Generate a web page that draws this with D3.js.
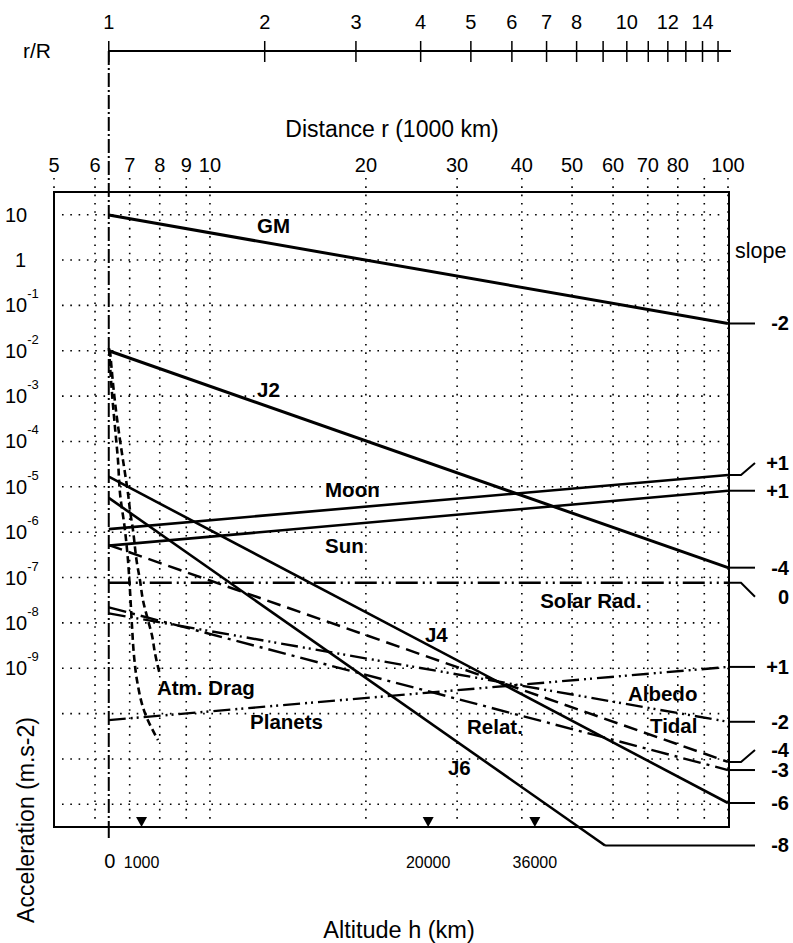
<!DOCTYPE html>
<html><head><meta charset="utf-8">
<script src="https://cdn.jsdelivr.net/npm/d3@7"></script>
<style>
body{margin:0;background:#fff}
text{font-family:"Liberation Sans",Arial,Helvetica,sans-serif;fill:#000}
</style>
</head><body>
<svg id="c" width="793" height="943"></svg>
<script>
// ---------- data ----------
const earthRadius = 6.378; // 1000 km
const distTicks = [5,6,7,8,9,10,20,30,40,50,60,70,80,90,100];
const distLabels = [5,6,7,8,9,10,20,30,40,50,60,70,80,100];
const ratioTicks = [1,2,3,4,5,6,7,8,9,10,11,12,13,14,15];
const ratioLabels = [1,2,3,4,5,6,7,8,10,12,14];
const accelGridExp = [1,0,-1,-2,-3,-4,-5,-6,-7,-8,-9,-10,-11,-12];
const accelLabelExp = [1,0,-1,-2,-3,-4,-5,-6,-7,-8,-9];
const altitudeLabels = [0,1000,20000,36000];
const altitudeMarks = [1000,20000,36000];

// series: [r (1000 km), acceleration (m/s^2)]
const gm      = [[6.378, 9.8],    [100, 3.99e-2]];
const j2      = [[6.378, 1.0e-2], [100, 1.65e-7]];
const moon    = [[6.378, 1.17e-6],[100, 1.82e-5]];
const sun     = [[6.378, 5.05e-7],[100, 8.2e-6]];
const solarRad= [[6.378, 7.7e-8], [100, 7.7e-8]];
const j4      = [[6.378, 1.67e-5],[100, 1.07e-12]];
const j6      = [[6.378, 5.7e-6], [57.9, 1.24e-13]];
const relat   = [[6.378, 2.2e-8], [100, 5.7e-12]];
const albedo  = [[6.378, 1.62e-8],[100, 6.6e-11]];
const tidal   = [[6.378, 5.2e-7], [100, 8.6e-12]];
const planets = [[6.378, 7.2e-11],[100, 1.07e-9]];
const dragA = [[6.383,1.15e-2],[6.47,1.17e-3],[6.556,2.08e-4],[6.644,3.9e-5],[6.704,7.3e-6],
               [6.854,1.12e-6],[6.946,2.44e-7],[7.008,5.3e-8],[7.07,9.0e-9],[7.133,1.96e-9],
               [7.229,5.5e-10],[7.49,1.03e-10],[7.938,2.6e-11]];
const dragB = [[6.412,1.04e-2],[6.585,4.9e-4],[6.704,1.08e-4],[6.854,2.02e-5],[6.946,7.3e-6],
               [7.008,3.08e-6],[7.102,1.12e-6],[7.229,2.09e-7],[7.326,8.8e-8],[7.424,3.2e-8],
               [7.591,1.16e-8],[7.727,5.4e-9],[7.831,2.17e-9],[7.938,1.07e-9],[8.009,7.1e-10]];

const seriesNames = ["GM","J2","Moon","Sun","Solar Rad.","J4","J6","Relat.","Albedo","Tidal","Planets","Atm. Drag"];
const slopeLabels = ["-2","-4","+1","+1","0","-6","-8","-3","-2","-4","+1"];

// ---------- layout ----------
const svg = d3.select("#c");
const x = d3.scaleLog().domain([5,100]).range([54,728]);
const y = d3.scaleLog().domain([Math.pow(10,-12.5), Math.pow(10,1.5)]).range([827,192]);
const L = 54, R = 728, T = 192, B = 827;

// grid
const grid = svg.append("g").attr("stroke","#000").attr("stroke-width",1.6)
  .attr("stroke-dasharray","1.6,6.7").attr("fill","none");
accelGridExp.forEach(e=>{
  grid.append("line").attr("x1",L+8).attr("x2",R-6)
    .attr("y1",y(Math.pow(10,e))).attr("y2",y(Math.pow(10,e)));
});
distTicks.forEach(d=>{
  grid.append("line").attr("x1",x(d)).attr("x2",x(d)).attr("y1",178).attr("y2",822);
});

// frame
svg.append("rect").attr("x",L).attr("y",T).attr("width",R-L+1).attr("height",B-T)
  .attr("fill","none").attr("stroke","#000").attr("stroke-width",2);

// distance tick labels
svg.append("g").selectAll("text").data(distLabels).join("text")
  .attr("x",d=>x(d)).attr("y",172).attr("text-anchor","middle")
  .attr("font-size",20).text(d=>d);
svg.append("text").attr("x",392).attr("y",137).attr("text-anchor","middle")
  .attr("font-size",23).text("Distance r (1000 km)");

// r/R axis
const ya = 51;
svg.append("line").attr("x1",x(earthRadius)).attr("x2",R+3).attr("y1",ya).attr("y2",ya)
  .attr("stroke","#000").attr("stroke-width",2);
svg.append("g").selectAll("line").data(ratioTicks).join("line")
  .attr("x1",d=>x(d*earthRadius)).attr("x2",d=>x(d*earthRadius))
  .attr("y1",ya-10).attr("y2",ya+11).attr("stroke","#000").attr("stroke-width",1.5);
svg.append("g").selectAll("text").data(ratioLabels).join("text")
  .attr("x",d=>x(d*earthRadius)).attr("y",29).attr("text-anchor","middle")
  .attr("font-size",20).text(d=>d);
svg.append("text").attr("x",37).attr("y",58).attr("text-anchor","middle")
  .attr("font-size",21).text("r/R");

// Earth-surface line
svg.append("line").attr("x1",x(earthRadius)).attr("x2",x(earthRadius))
  .attr("y1",ya).attr("y2",B).attr("stroke","#000").attr("stroke-width",2)
  .attr("stroke-dasharray","14,3,2,3");
svg.append("line").attr("x1",x(earthRadius)).attr("x2",x(earthRadius))
  .attr("y1",B).attr("y2",B+11).attr("stroke","#000").attr("stroke-width",2);

// acceleration labels
const yl = svg.append("g");
accelLabelExp.forEach(e=>{
  const yy = y(Math.pow(10,e)) + 7;
  if (e===0) {
    yl.append("text").attr("x",15).attr("y",yy).attr("font-size",20).text("1");
  } else {
    const t = yl.append("text").attr("x",5).attr("y",yy).attr("font-size",20).text("10");
    if (e!==1) t.append("tspan").attr("font-size",13).attr("dy",-14).text(String(e));
  }
});
svg.append("text").attr("transform","translate(34,820) rotate(-90)")
  .attr("text-anchor","middle").attr("font-size",23).text("Acceleration (m.s-2)");

// altitude labels
svg.append("g").selectAll("text").data(altitudeLabels).join("text")
  .attr("x",d=>x(earthRadius + d/1000) + (d===0?1:0)).attr("y",868)
  .attr("text-anchor","middle").attr("font-size",d=>d===0?20:16).text(d=>d);
svg.append("g").selectAll("path").data(altitudeMarks).join("path")
  .attr("d",d=>{const xx=x(earthRadius+d/1000);return `M${xx-5.5},817L${xx+5.5},817L${xx},827Z`;})
  .attr("fill","#000");
svg.append("text").attr("x",399).attr("y",938).attr("text-anchor","middle")
  .attr("font-size",23.5).text("Altitude h (km)");

// series lines
const line = d3.line().x(d=>x(d[0])).y(d=>y(d[1]));
const curve = d3.line().x(d=>x(d[0])).y(d=>y(d[1])).curve(d3.curveMonotoneY);
const series = [
  {d:gm, dash:null, w:3},
  {d:j2, dash:null, w:3},
  {d:moon, dash:null, w:2.6},
  {d:sun, dash:null, w:2.6},
  {d:solarRad, dash:"22,5,2,5,2,5", w:2.6},
  {d:j4, dash:null, w:2.6},
  {d:j6, dash:null, w:2.6},
  {d:relat, dash:"18,6,3,6", w:2.4},
  {d:albedo, dash:"17,5,2,4,2,5", w:2.4},
  {d:tidal, dash:"14,7", w:2.5},
  {d:planets, dash:"17,5,2,4,2,5", w:2.4}
];
const sg = svg.append("g").attr("fill","none").attr("stroke","#000");
series.forEach(s=>{
  sg.append("path").attr("d",line(s.d)).attr("stroke-width",s.w)
    .attr("stroke-dasharray",s.dash);
});
[dragA, dragB].forEach(dd=>{
  sg.append("path").attr("d",curve(dd)).attr("stroke-width",2.6)
    .attr("stroke-dasharray","7,4");
});

// slope leaders & labels
const kink = [0,0,-12,0,14,0,0,0,0,-12,0];
const lg = svg.append("g").attr("fill","none").attr("stroke","#000").attr("stroke-width",2);
series.forEach((s,i)=>{
  const e = s.d[s.d.length-1];
  const ex = x(e[0]), ey = y(e[1]);
  const ly = ey + kink[i];
  const pts = kink[i] ? [[ex,ey],[ex+13,ey],[ex+27,ly]] : [[ex,ey],[755,ly]];
  lg.append("path").attr("d",d3.line()(pts));
  svg.append("text").attr("x",789).attr("y",ly+7).attr("text-anchor","end")
    .attr("font-size",20).attr("font-weight","bold").text(slopeLabels[i]);
});
svg.append("text").attr("x",735).attr("y",258).attr("font-size",21.5).text("slope");

// series name labels (anchored in data space)
const nameAnchors = [[12.33,3.94],[12.33,9.5e-4],[16.68,5.97e-6],[16.68,3.48e-7],[43.4,2.13e-8],
  [26.0,3.79e-9],[28.8,4.43e-12],[31.35,3.55e-11],[64.1,1.9e-10],[70.7,3.73e-11],[11.95,4.58e-11],[7.9,2.57e-10]];
svg.append("g").selectAll("text").data(seriesNames).join("text")
  .attr("x",(d,i)=>x(nameAnchors[i][0])).attr("y",(d,i)=>y(nameAnchors[i][1]))
  .attr("font-size",20.5).attr("font-weight","bold").text(d=>d);
</script>
</body></html>
